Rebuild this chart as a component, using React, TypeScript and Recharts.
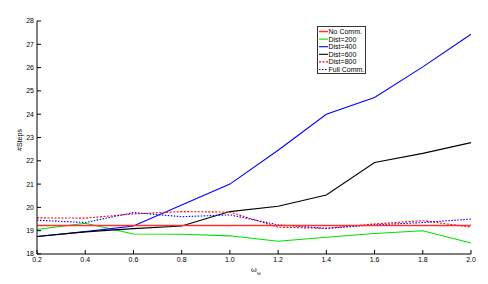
import React from 'react';
import { LineChart, Line, XAxis, YAxis } from 'recharts';

const omegaW = [0.2, 0.4, 0.6, 0.8, 1.0, 1.2, 1.4, 1.6, 1.8, 2.0];
const noComm = [19.22, 19.22, 19.22, 19.22, 19.22, 19.22, 19.22, 19.22, 19.22, 19.22];
const dist200 = [19.05, 19.32, 18.86, 18.85, 18.78, 18.55, 18.72, 18.88, 19.0, 18.47];
const dist400 = [18.75, 18.96, 19.2, 20.1, 21.0, 22.45, 24.0, 24.72, 26.03, 27.43];
const dist600 = [18.75, 18.95, 19.09, 19.2, 19.82, 20.05, 20.53, 21.93, 22.32, 22.78];
const dist800 = [19.55, 19.54, 19.72, 19.82, 19.8, 19.15, 19.1, 19.29, 19.43, 19.15];
const fullComm = [19.45, 19.35, 19.78, 19.6, 19.68, 19.25, 19.1, 19.25, 19.35, 19.5];

const xTicks = [0.2, 0.4, 0.6, 0.8, 1.0, 1.2, 1.4, 1.6, 1.8, 2.0];
const yTicks = [18, 19, 20, 21, 22, 23, 24, 25, 26, 27, 28];

// legend order
const series = [
  { key: 'noComm', name: 'No Comm.', color: '#ff3030', dash: undefined, width: 1.5 },
  { key: 'dist200', name: 'Dist=200', color: '#00e000', dash: undefined, width: 1.1 },
  { key: 'dist400', name: 'Dist=400', color: '#0000ff', dash: undefined, width: 1.1 },
  { key: 'dist600', name: 'Dist=600', color: '#000000', dash: undefined, width: 1.1 },
  { key: 'dist800', name: 'Dist=800', color: '#ff0000', dash: '2 1.5', width: 1.1 },
  { key: 'fullComm', name: 'Full Comm.', color: '#0000ff', dash: '1.5 1.5', width: 1.1 },
];

// draw order: red solid on top
const drawOrder = ['dist200', 'dist400', 'dist600', 'dist800', 'fullComm', 'noComm'];

const data = omegaW.map((w, i) => ({
  w,
  noComm: noComm[i],
  dist200: dist200[i],
  dist400: dist400[i],
  dist600: dist600[i],
  dist800: dist800[i],
  fullComm: fullComm[i],
}));

const font = '"Liberation Sans", Arial, sans-serif';

function LegendBox() {
  return (
    <svg width={49} height={48} style={{ position: 'absolute', left: 317, top: 26 }}>
      <rect x={0.5} y={0.5} width={48} height={47} fill="#fff" stroke="#333" strokeWidth={1} />
      {series.map((s, i) => {
        const cy = 5.5 + i * 7.6;
        return (
          <g key={s.key}>
            <line x1={2} x2={11} y1={cy} y2={cy} stroke={s.color} strokeWidth={s.width} strokeDasharray={s.dash} />
            <text x={11.5} y={cy + 2.5} fontSize={7} fontFamily={font} fill="#000">
              {s.name}
            </text>
          </g>
        );
      })}
    </svg>
  );
}

export default function App() {
  return (
    <div style={{ position: 'absolute', left: 0, top: 0, width: 488, height: 284, background: '#fff' }}>
      <LineChart width={488} height={284} data={data} margin={{ top: 21, right: 17, bottom: 10, left: 0 }}>
        <XAxis
          dataKey="w"
          type="number"
          domain={[0.2, 2.0]}
          ticks={xTicks}
          tickFormatter={(v: number) => v.toFixed(1)}
          height={20}
          tickSize={-4}
          tickMargin={7}
          stroke="#000"
          tick={{ fill: '#000', fontSize: 7, fontFamily: font }}
          label={{
            content: () => (
              <text x={251} y={272} fontSize={7} fontFamily="DejaVu Serif, serif" fill="#000">
                ω<tspan dy={2.5} fontSize={5}>w</tspan>
              </text>
            ),
          }}
        />
        <YAxis
          type="number"
          domain={[18, 28]}
          ticks={yTicks}
          width={37}
          tickSize={-4}
          tickMargin={7}
          stroke="#000"
          tick={{ fill: '#000', fontSize: 7, fontFamily: font }}
          label={{
            content: () => (
              <text
                x={22}
                y={140}
                transform="rotate(-90 22 140)"
                textAnchor="middle"
                fontSize={7}
                fontFamily={font}
                fill="#000"
              >
                #Steps
              </text>
            ),
          }}
        />
        {drawOrder.map((k) => {
          const s = series.find((x) => x.key === k)!;
          return (
            <Line
              key={s.key}
              dataKey={s.key}
              name={s.name}
              stroke={s.color}
              strokeWidth={s.width}
              strokeDasharray={s.dash}
              dot={false}
              isAnimationActive={false}
            />
          );
        })}
      </LineChart>
      <LegendBox />
    </div>
  );
}
